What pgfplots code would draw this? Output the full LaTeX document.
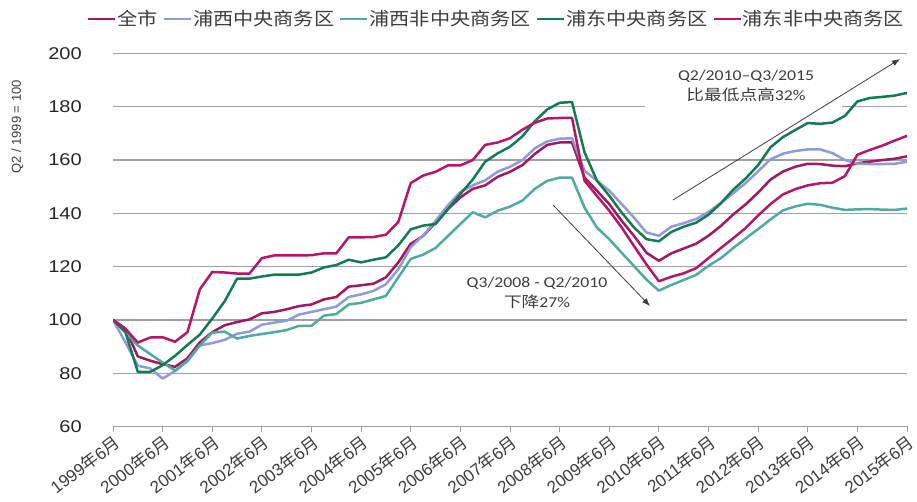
\documentclass[border=0pt]{standalone}
\usepackage{pgfplots}
\pgfplotsset{compat=1.18}
\usepackage{pgfplotstable}
\usepackage{fontspec}
\usetikzlibrary{arrows.meta}
\setmainfont{Liberation Sans}
\newfontfamily\cjk{Noto Sans CJK SC}
\newfontfamily\carlito{Carlito}
% the source image is stretched sideways a little
\newcommand{\sx}[1]{\scalebox{1.18}[1]{#1}}
\newcommand{\lx}[1]{\scalebox{1.12}[1]{#1}}
\newcommand{\ym}[1]{#1{\cjk 年}6{\cjk 月}}

\definecolor{cAll}{RGB}{160,25,95}
\definecolor{cPxC}{RGB}{143,155,217}
\definecolor{cPxN}{RGB}{79,170,160}
\definecolor{cPdC}{RGB}{20,122,80}
\definecolor{cPdN}{RGB}{182,22,106}
\definecolor{gridgray}{RGB}{160,160,160}
\definecolor{txt}{RGB}{60,60,60}

% q = quarters after Q2/1999; a 全市, b 浦西中央, c 浦西非中央, d 浦东中央, e 浦东非中央
\pgfplotstableread{
q a b c d e
0 100 100 100 100 100
1 96.7 91.6 95.4 95.4 96.7
2 86.3 82.8 90.4 80.5 91.5
3 84.7 81.8 87.2 80.5 93.4
4 83.4 78 84 83 93.5
5 82.4 80.8 81 86.5 91.8
6 85.6 84.7 84.5 90.6 95.4
7 91.6 90.4 90.5 94.5 111.5
8 95.4 91.3 95.2 100.5 118
9 98 92.5 95.6 107 117.8
10 99.2 94.8 93 115.5 117.4
11 100.2 95.6 94 115.5 117.4
12 102.5 98.2 94.7 116.3 123.2
13 103 99 95.4 117 124.2
14 104 99.7 96.2 117 124.2
15 105.2 102 97.8 117 124.2
16 105.8 103 97.8 117.8 124.3
17 107.7 104 101.6 119.7 125
18 108.6 105 102.2 120.6 125
19 112.5 108.6 105.8 122.6 131
20 113 109.6 106.4 121.6 131
21 113.6 110.9 107.7 122.6 131.1
22 116 113.4 109 123.5 132
23 121.6 119 116 128 136.8
24 128.6 127.3 122.9 134 151.4
25 131.5 131.7 124.5 135.4 154.2
26 136.6 137.2 127 136 155.6
27 141.6 143 131.5 141.6 158
28 146 148 136 147.3 158
29 149.2 150.5 140.4 152.7 160
30 150.5 152.4 138.5 159.4 165.7
31 153.7 155.6 141 162.5 166.6
32 155.6 157.5 142.5 165 168.2
33 158.1 160 144.8 168.9 171.4
34 162.3 164.4 149.2 174.6 174
35 165.7 167 152.2 179 175.6
36 166.6 168 153.4 181.5 175.8
37 166.6 168.2 153.4 181.8 175.8
38 153.5 156 142.2 163 152.3
39 148.5 152.3 134.7 152.3 146.6
40 143.5 148.5 130.3 146.6 141
41 137.2 143.5 125.2 140.3 134.7
42 131.5 138.4 120.2 134.7 127.7
43 125.2 132.8 115.1 130.3 120.8
44 122.2 131.6 111 129.5 114.5
45 125 135 113.1 133 116.2
46 126.8 136.3 115 135 117.5
47 128.6 137.9 116.9 136.5 119.4
48 131.6 140.5 120.3 139.5 123.2
49 135.3 143.9 123.2 143.8 127
50 139.6 147.6 127 148.9 130.7
51 143.4 151.4 130.6 153.1 134.5
52 147.8 155.8 134.1 158.1 139.2
53 152.7 160.3 137.7 164.8 143.5
54 155.7 162.4 141.1 168.6 147.1
55 157.5 163.4 142.6 171.3 149.1
56 158.6 164 143.6 173.9 150.5
57 158.5 164 143.2 173.6 151.3
58 157.9 162.6 142.1 174.1 151.5
59 157.7 160 141.3 176.6 154
60 158.8 158.7 141.5 182 162
61 159.4 158.5 141.6 183.3 163.8
62 160 158.5 141.4 183.7 165.4
63 160.5 158.6 141.3 184.2 167.3
64 161.4 159.4 141.8 185.2 169.1
}\prices

\begin{document}
\begin{tikzpicture}
\begin{axis}[
    at={(113pt,75.5pt)}, anchor=south west,
    scale only axis, width=794pt, height=373pt,
    xmin=0, xmax=64, ymin=60, ymax=200,
    axis line style={draw=none},
    xtick={0,4,...,64},
    xticklabels={\ym{1999},\ym{2000},\ym{2001},\ym{2002},\ym{2003},\ym{2004},\ym{2005},\ym{2006},\ym{2007},\ym{2008},\ym{2009},\ym{2010},\ym{2011},\ym{2012},\ym{2013},\ym{2014},\ym{2015}},
    xtick pos=bottom, tick align=outside, major tick length=6pt,
    xtick style={draw=gridgray, line width=1pt},
    xticklabel style={rotate=37, anchor=north east, inner sep=1pt,
        font=\fontsize{17}{17}\selectfont, text=txt},
    ytick={60,80,...,200},
    ytick style={draw=none},
    /pgf/number format/assume math mode=true,
    yticklabel={\sx{\pgfmathprintnumber{\tick}}},
    yticklabel style={anchor=east, inner sep=0pt, xshift=-25pt,
        font=\fontsize{17}{17}\selectfont, text=black!85},
    ymajorgrids, grid style={gridgray, line width=1.3pt},
    legend columns=5,
    legend style={at={(0.4824,1.0925)}, anchor=center, draw=none, fill=none,
        font=\fontsize{18}{20}\selectfont\cjk, text=txt,
        nodes={inner sep=1pt},
        /tikz/every even column/.append style={column sep=4pt}},
    legend image code/.code={\draw[#1, line width=2.4pt] (0pt,0pt) -- (27pt,0pt);},
    every axis plot/.append style={line width=2.5pt, line join=round},
]
\addplot[cAll] table[x=q, y=a] {\prices};
\addlegendentry{\lx{全市}}
\addplot[cPxC] table[x=q, y=b] {\prices};
\addlegendentry{\lx{浦西中央商务区}}
\addplot[cPxN] table[x=q, y=c] {\prices};
\addlegendentry{\lx{浦西非中央商务区}}
\addplot[cPdC] table[x=q, y=d] {\prices};
\addlegendentry{\lx{浦东中央商务区}}
\addplot[cPdN] table[x=q, y=e] {\prices};
\addlegendentry{\lx{浦东非中央商务区}}
\end{axis}

% y axis title
\node[rotate=90, font=\fontsize{13}{13}\selectfont, text=txt] at (17.5pt,375pt) {Q2 / 1999 = 100};

% text box of the upper note hides the 180 grid line
\fill[white] (645pt,390pt) rectangle (842pt,442pt);
\node[align=center, font=\fontsize{15}{20}\selectfont\carlito, text=txt] at (746pt,416pt)
    {\sx{Q2/2010–Q3/2015}\\ \sx{{\cjk 比最低点高}32\%}};
\node[align=center, font=\fontsize{15}{20}\selectfont\carlito, text=txt] at (537pt,209pt)
    {\sx{Q3/2008 - Q2/2010}\\ \sx{{\cjk 下降}27\%}};

\draw[-{Latex[length=8pt,width=6pt]}, line width=0.8pt, txt] (553pt,297pt) -- (650pt,196pt);
\draw[-{Latex[length=8pt,width=6pt]}, line width=0.8pt, txt] (673pt,302pt) -- (900pt,443pt);

\pgfresetboundingbox
\path (0pt,0pt) rectangle (917pt,502pt);
\end{tikzpicture}
\end{document}
